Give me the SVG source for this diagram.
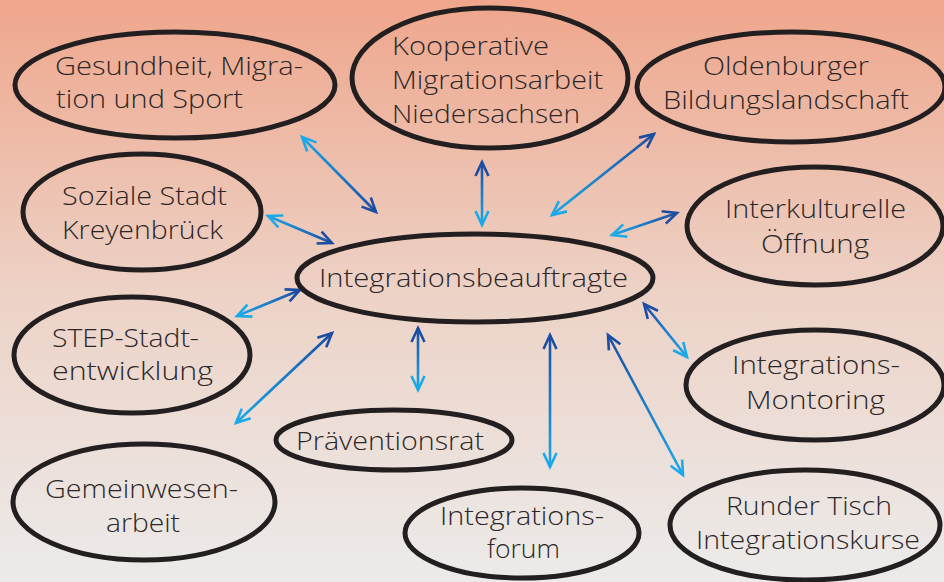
<svg xmlns="http://www.w3.org/2000/svg" xmlns:xlink="http://www.w3.org/1999/xlink" width="944" height="582" viewBox="0 0 944 582">
<style>
.n{fill:none;stroke:#231F20;stroke-width:5}
.t{font-family:"Open Sans","Noto Sans",sans-serif;font-size:26px;font-weight:300;fill:#2B2728}
.a{fill:none;stroke-width:2.6}
</style>
<defs>
<linearGradient id="bg" x1="0" y1="0" x2="0" y2="1">
<stop offset="0" stop-color="#EFA68C"/>
<stop offset="0.5" stop-color="#EDD2C6"/>
<stop offset="1" stop-color="#ECEBEA"/>
</linearGradient>
<linearGradient id="ag">
<stop offset="0" stop-color="#1C4DA3"/>
<stop offset="1" stop-color="#1AAAEA"/>
</linearGradient>
<linearGradient id="g1" href="#ag" xlink:href="#ag" gradientUnits="userSpaceOnUse" x1="376" y1="212" x2="302" y2="137"/>
<linearGradient id="g2" href="#ag" xlink:href="#ag" gradientUnits="userSpaceOnUse" x1="482" y1="162" x2="482" y2="225"/>
<linearGradient id="g3" href="#ag" xlink:href="#ag" gradientUnits="userSpaceOnUse" x1="654" y1="134" x2="552" y2="215"/>
<linearGradient id="g4" href="#ag" xlink:href="#ag" gradientUnits="userSpaceOnUse" x1="677" y1="213" x2="612" y2="235"/>
<linearGradient id="g5" href="#ag" xlink:href="#ag" gradientUnits="userSpaceOnUse" x1="332" y1="243" x2="268" y2="216"/>
<linearGradient id="g6" href="#ag" xlink:href="#ag" gradientUnits="userSpaceOnUse" x1="300" y1="290" x2="237" y2="316"/>
<linearGradient id="g7" href="#ag" xlink:href="#ag" gradientUnits="userSpaceOnUse" x1="332" y1="333" x2="236" y2="423"/>
<linearGradient id="g8" href="#ag" xlink:href="#ag" gradientUnits="userSpaceOnUse" x1="418" y1="328" x2="418" y2="390"/>
<linearGradient id="g9" href="#ag" xlink:href="#ag" gradientUnits="userSpaceOnUse" x1="550" y1="335" x2="550" y2="467"/>
<linearGradient id="g10" href="#ag" xlink:href="#ag" gradientUnits="userSpaceOnUse" x1="608" y1="335" x2="683" y2="475"/>
<linearGradient id="g11" href="#ag" xlink:href="#ag" gradientUnits="userSpaceOnUse" x1="644" y1="304" x2="687" y2="357"/>
<marker id="hd" markerUnits="userSpaceOnUse" viewBox="-16 -9 18 18" refX="0" refY="0" markerWidth="18" markerHeight="18" orient="auto-start-reverse" overflow="visible">
<path d="M-14,-6.5 L0,0 L-14,6.5" fill="none" stroke="#1C4DA3" stroke-width="2.6"/>
</marker>
<marker id="hl" markerUnits="userSpaceOnUse" viewBox="-16 -9 18 18" refX="0" refY="0" markerWidth="18" markerHeight="18" orient="auto-start-reverse" overflow="visible">
<path d="M-14,-6.5 L0,0 L-14,6.5" fill="none" stroke="#1AAAEA" stroke-width="2.6"/>
</marker>
</defs>
<rect width="944" height="582" fill="url(#bg)"/>
<g id="connectors" marker-start="url(#hd)" marker-end="url(#hl)">
<path class="a" stroke="url(#g1)" d="M376,212 L302,137"/>
<path class="a" stroke="url(#g2)" d="M482,162 L482,225"/>
<path class="a" stroke="url(#g3)" d="M654,134 L552,215"/>
<path class="a" stroke="url(#g4)" d="M677,213 L612,235"/>
<path class="a" stroke="url(#g5)" d="M332,243 L268,216"/>
<path class="a" stroke="url(#g6)" d="M300,290 L237,316"/>
<path class="a" stroke="url(#g7)" d="M332,333 L236,423"/>
<path class="a" stroke="url(#g8)" d="M418,328 L418,390"/>
<path class="a" stroke="url(#g9)" d="M550,335 L550,467"/>
<path class="a" stroke="url(#g10)" d="M608,335 L683,475"/>
<path class="a" stroke="url(#g11)" d="M644,304 L687,357"/>
</g>
<g id="center">
<ellipse class="n" cx="475" cy="278" rx="178" ry="44"/>
<text class="t" x="319" y="287" textLength="309" lengthAdjust="spacingAndGlyphs">Integrationsbeauftragte</text>
</g>
<g id="gesundheit">
<ellipse class="n" cx="175" cy="85" rx="160" ry="53"/>
<text class="t" x="55" y="75" textLength="248" lengthAdjust="spacingAndGlyphs">Gesundheit, Migra-</text>
<text class="t" x="56" y="108" textLength="187" lengthAdjust="spacingAndGlyphs">tion und Sport</text>
</g>
<g id="kooperative">
<ellipse class="n" cx="490" cy="78" rx="138" ry="70"/>
<text class="t" x="392" y="55" textLength="157" lengthAdjust="spacingAndGlyphs">Kooperative</text>
<text class="t" x="392" y="89" textLength="211" lengthAdjust="spacingAndGlyphs">Migrationsarbeit</text>
<text class="t" x="392" y="123" textLength="188" lengthAdjust="spacingAndGlyphs">Niedersachsen</text>
</g>
<g id="oldenburger">
<ellipse class="n" cx="791" cy="87" rx="154" ry="55"/>
<text class="t" x="703" y="75" textLength="166" lengthAdjust="spacingAndGlyphs">Oldenburger</text>
<text class="t" x="663" y="109" textLength="246" lengthAdjust="spacingAndGlyphs">Bildungslandschaft</text>
</g>
<g id="soziale">
<ellipse class="n" cx="142" cy="212" rx="119" ry="58"/>
<text class="t" x="62" y="205" textLength="165" lengthAdjust="spacingAndGlyphs">Soziale Stadt</text>
<text class="t" x="62" y="239" textLength="161" lengthAdjust="spacingAndGlyphs">Kreyenbrück</text>
</g>
<g id="interkulturelle">
<ellipse class="n" cx="815" cy="226" rx="128" ry="59"/>
<text class="t" x="725" y="218" textLength="181" lengthAdjust="spacingAndGlyphs">Interkulturelle</text>
<text class="t" x="761" y="253" textLength="108" lengthAdjust="spacingAndGlyphs">Öffnung</text>
</g>
<g id="step">
<ellipse class="n" cx="132" cy="355" rx="118" ry="58"/>
<text class="t" x="52" y="347" textLength="147" lengthAdjust="spacingAndGlyphs">STEP-Stadt-</text>
<text class="t" x="52" y="380" textLength="161" lengthAdjust="spacingAndGlyphs">entwicklung</text>
</g>
<g id="monitoring">
<ellipse class="n" cx="815" cy="385" rx="129" ry="55"/>
<text class="t" x="732" y="374" textLength="168" lengthAdjust="spacingAndGlyphs">Integrations-</text>
<text class="t" x="746" y="409" textLength="139" lengthAdjust="spacingAndGlyphs">Montoring</text>
</g>
<g id="praevention">
<ellipse class="n" cx="394" cy="440" rx="118" ry="30"/>
<text class="t" x="296" y="450" textLength="188" lengthAdjust="spacingAndGlyphs">Präventionsrat</text>
</g>
<g id="gemeinwesen">
<ellipse class="n" cx="144" cy="502" rx="131" ry="58"/>
<text class="t" x="45" y="498" textLength="193" lengthAdjust="spacingAndGlyphs">Gemeinwesen-</text>
<text class="t" x="106" y="532" textLength="74" lengthAdjust="spacingAndGlyphs">arbeit</text>
</g>
<g id="forum">
<ellipse class="n" cx="522" cy="533" rx="117" ry="45"/>
<text class="t" x="440" y="525" textLength="164" lengthAdjust="spacingAndGlyphs">Integrations-</text>
<text class="t" x="487" y="558" textLength="73" lengthAdjust="spacingAndGlyphs">forum</text>
</g>
<g id="runder">
<ellipse class="n" cx="805" cy="525" rx="135" ry="55"/>
<text class="t" x="726" y="515" textLength="166" lengthAdjust="spacingAndGlyphs">Runder Tisch</text>
<text class="t" x="696" y="549" textLength="224" lengthAdjust="spacingAndGlyphs">Integrationskurse</text>
</g>
</svg>
